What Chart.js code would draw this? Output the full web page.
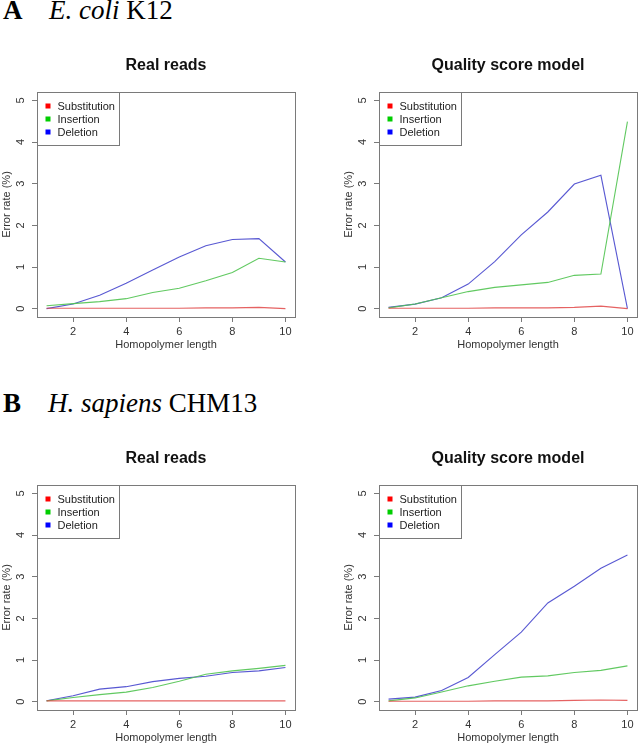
<!DOCTYPE html>
<html>
<head>
<meta charset="utf-8">
<script src="https://cdn.jsdelivr.net/npm/chart.js@4.4.1/dist/chart.umd.min.js"></script>
<style>
  html, body { margin: 0; padding: 0; background: #fff; overflow: hidden; }
  body { width: 638px; height: 745px; position: relative; }
  canvas { position: absolute; }
  .hdr { position: absolute; font-family: "Liberation Serif", "Times New Roman", serif; font-size: 27px; line-height: 27px; color: #000; white-space: nowrap; }
  .hdr b { font-weight: bold; }
</style>
</head>
<body>
<div class="hdr" style="left:3px; top:-3px;"><b>A</b></div>
<div class="hdr" style="left:49px; top:-3px;"><i>E. coli</i> K12</div>
<div class="hdr" style="left:3px; top:390px;"><b>B</b></div>
<div class="hdr" style="left:48px; top:390px;"><i>H. sapiens</i> CHM13</div>

<canvas id="c1" width="300" height="312" style="left:0px; top:40px;"></canvas>
<canvas id="c2" width="300" height="312" style="left:342px; top:40px;"></canvas>
<canvas id="c3" width="300" height="312" style="left:0px; top:433px;"></canvas>
<canvas id="c4" width="300" height="312" style="left:342px; top:433px;"></canvas>

<script>
// ---- Data ----
const homopolymerLength = [1, 2, 3, 4, 5, 6, 7, 8, 9, 10];
const xTickValues = [2, 4, 6, 8, 10];
const yTickValues = [0, 1, 2, 3, 4, 5];
const seriesNames = ["Substitution", "Insertion", "Deletion"];

const ecoliRealSub  = [0.01, 0.01, 0.01, 0.01, 0.01, 0.01, 0.02, 0.02, 0.03, 0.00];
const ecoliRealIns  = [0.07, 0.12, 0.17, 0.24, 0.39, 0.49, 0.67, 0.87, 1.21, 1.12];
const ecoliRealDel  = [0.00, 0.11, 0.32, 0.61, 0.93, 1.24, 1.51, 1.66, 1.68, 1.12];

const ecoliModelSub = [0.01, 0.01, 0.01, 0.01, 0.02, 0.02, 0.02, 0.03, 0.06, 0.00];
const ecoliModelIns = [0.02, 0.11, 0.26, 0.41, 0.51, 0.57, 0.63, 0.80, 0.83, 4.49];
const ecoliModelDel = [0.03, 0.11, 0.26, 0.59, 1.13, 1.77, 2.32, 2.99, 3.20, 0.00];

const hsapRealSub   = [0.02, 0.02, 0.02, 0.02, 0.02, 0.02, 0.02, 0.02, 0.02, 0.02];
const hsapRealIns   = [0.02, 0.10, 0.17, 0.23, 0.34, 0.49, 0.66, 0.74, 0.80, 0.87];
const hsapRealDel   = [0.02, 0.14, 0.30, 0.36, 0.48, 0.56, 0.61, 0.70, 0.74, 0.82];

const hsapModelSub  = [0.01, 0.01, 0.01, 0.01, 0.02, 0.02, 0.02, 0.03, 0.04, 0.03];
const hsapModelIns  = [0.02, 0.09, 0.23, 0.38, 0.49, 0.59, 0.62, 0.70, 0.75, 0.86];
const hsapModelDel  = [0.06, 0.11, 0.27, 0.58, 1.13, 1.67, 2.37, 2.77, 3.20, 3.52];

// ---- Styling ----
const lineColors   = ["rgba(225,70,70,0.85)", "rgba(80,195,80,0.9)", "rgba(70,70,205,0.9)"];
const legendColors = ["#ff0000", "#00cd00", "#0000ff"];
const FONT = "'Liberation Sans', Arial, Helvetica, sans-serif";
const BOX_COLOR = "#7a7a7a";

const boxPlugin = {
  id: "rbox",
  afterDraw(chart) {
    const ctx = chart.ctx;
    const a = chart.chartArea;
    ctx.save();
    // rotated y tick labels (R las=0 style), positioned by the y scale
    const ys = chart.scales.y;
    ctx.font = "11px " + FONT;
    ctx.fillStyle = "#333";
    ctx.textAlign = "center";
    ctx.textBaseline = "middle";
    yTickValues.forEach(v => {
      const py = ys.getPixelForValue(v);
      ctx.save();
      ctx.translate(a.left - 16, py);
      ctx.rotate(-Math.PI / 2);
      ctx.fillText(String(v), 0, 0);
      ctx.restore();
    });

    ctx.strokeStyle = BOX_COLOR;
    ctx.lineWidth = 1;
    const l = Math.round(a.left) + 0.5, t = Math.round(a.top) + 0.5;
    const r = Math.round(a.right) + 0.5, b = Math.round(a.bottom) + 0.5;
    ctx.strokeRect(l, t, r - l, b - t);
    // legend box (R style, top-left inside plot)
    const lw = 82, lh = 53;
    ctx.fillStyle = "#fff";
    ctx.fillRect(l, t, lw, lh);
    ctx.strokeRect(l, t, lw, lh);
    ctx.font = "11px " + FONT;
    ctx.textBaseline = "middle";
    ctx.textAlign = "left";
    chart.data.datasets.forEach((ds, i) => {
      const cy = t + 13.5 + 13 * i;
      ctx.fillStyle = legendColors[i];
      ctx.fillRect(l + 8, cy - 2.5, 5, 5);
      ctx.fillStyle = "#222";
      ctx.fillText(ds.label, l + 20, cy + 0.5);
    });
    ctx.restore();
  }
};

function makePanel(id, title, sub, ins, del) {
  const series = [sub, ins, del];
  const datasets = series.map((vals, i) => ({
    label: seriesNames[i],
    data: homopolymerLength.map((x, k) => ({ x: x, y: vals[k] })),
    borderColor: lineColors[i],
    backgroundColor: lineColors[i],
    borderWidth: 1.1,
    pointRadius: 0,
    tension: 0,
    fill: false
  }));
  return new Chart(document.getElementById(id), {
    type: "line",
    data: { datasets },
    plugins: [boxPlugin],
    options: {
      responsive: false,
      animation: false,
      devicePixelRatio: 1,
      layout: { padding: { left: 0, right: 5, top: 0, bottom: 0 } },
      plugins: {
        legend: { display: false },
        tooltip: { enabled: false },
        title: {
          display: true,
          text: title,
          fullSize: false,
          color: "#111",
          font: { family: FONT, size: 16, weight: "bold" },
          padding: { top: 16.4, bottom: 16.4 }
        }
      },
      scales: {
        x: {
          type: "linear",
          min: 0.64,
          max: 10.36,
          afterBuildTicks: s => { s.ticks = xTickValues.map(v => ({ value: v })); },
          afterFit: s => { s.height = 35; },
          border: { display: false },
          grid: { drawOnChartArea: false, drawTicks: true, tickLength: 5, color: BOX_COLOR, lineWidth: 1 },
          ticks: { color: "#333", font: { family: FONT, size: 11 }, padding: 3, maxRotation: 0, autoSkip: false },
          title: { display: true, text: "Homopolymer length", color: "#333", font: { family: FONT, size: 11 }, padding: 0 }
        },
        y: {
          type: "linear",
          min: -0.2,
          max: 5.2,
          afterBuildTicks: s => { s.ticks = yTickValues.map(v => ({ value: v })); },
          afterFit: s => { s.width = 37; },
          border: { display: false },
          grid: { drawOnChartArea: false, drawTicks: true, tickLength: 5, color: BOX_COLOR, lineWidth: 1 },
          ticks: { display: false },
          title: { display: true, text: "Error rate (%)", color: "#333", font: { family: FONT, size: 11 }, padding: { top: 0, bottom: 0 } }
        }
      }
    }
  });
}

makePanel("c1", "Real reads", ecoliRealSub, ecoliRealIns, ecoliRealDel);
makePanel("c2", "Quality score model", ecoliModelSub, ecoliModelIns, ecoliModelDel);
makePanel("c3", "Real reads", hsapRealSub, hsapRealIns, hsapRealDel);
makePanel("c4", "Quality score model", hsapModelSub, hsapModelIns, hsapModelDel);
</script>
</body>
</html>
